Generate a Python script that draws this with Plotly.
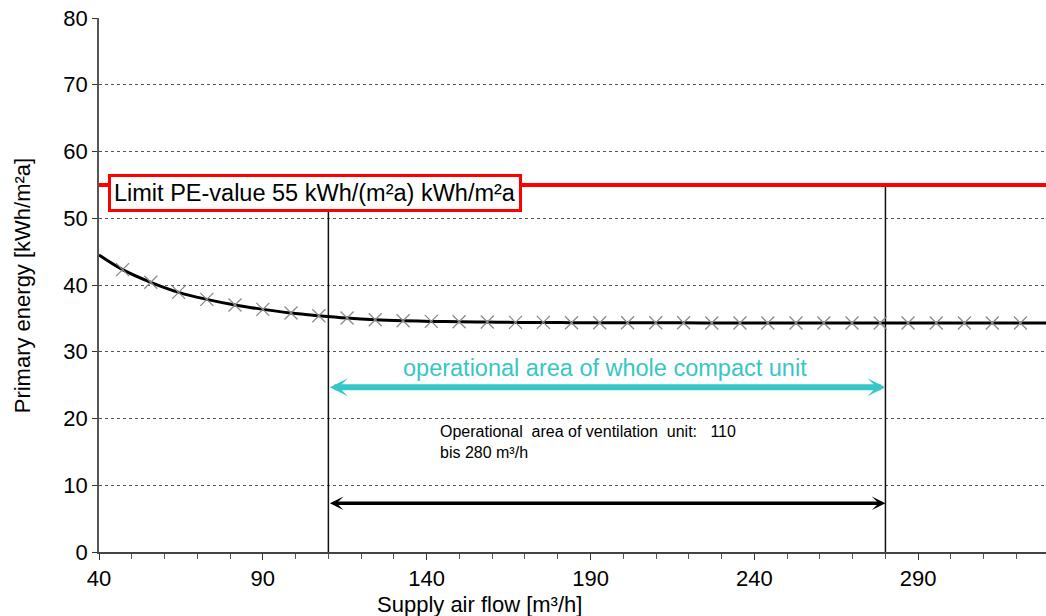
import plotly.graph_objects as go

# ---- data ----
flow = [40, 47.2, 55.8, 64.3, 72.9, 81.5, 90.0, 98.6, 107.1, 115.7, 124.3, 132.8,
        141.4, 149.9, 158.5, 167.1, 175.6, 184.2, 192.8, 201.3, 209.9, 218.4, 227.0,
        235.6, 244.1, 252.7, 261.2, 269.8, 278.4, 286.9, 295.5, 304.1, 312.6, 321.2, 329.0]
energy = [44.5, 42.3, 40.4, 38.9, 37.85, 37.0, 36.35, 35.8, 35.4, 35.05, 34.8, 34.65,
          34.55, 34.5, 34.45, 34.4, 34.4, 34.35, 34.35, 34.35, 34.35, 34.35, 34.3,
          34.3, 34.3, 34.3, 34.3, 34.3, 34.3, 34.3, 34.3, 34.3, 34.3, 34.3, 34.3]
marker_flow = flow[1:-1]
marker_energy = energy[1:-1]

limit_pe = 55
op_range = [110, 280]
whole_unit_level = 24.7
vent_unit_level = 7.3
vent_line_tops = [51.0, 55]

x_range = [40, 329]
y_range = [0, 80]
x_ticks = [40, 90, 140, 190, 240, 290]
y_ticks = [0, 10, 20, 30, 40, 50, 60, 70, 80]

FONT = "Liberation Sans, Arial, sans-serif"
CYAN = "#36c6c6"

fig = go.Figure()

# vertical operational-range lines
for xv, top in zip(op_range, vent_line_tops):
    fig.add_trace(go.Scatter(x=[xv, xv], y=[0, top], mode="lines",
                             line=dict(color="#111111", width=1.5),
                             hoverinfo="skip", showlegend=False))

# limit line
fig.add_trace(go.Scatter(x=x_range, y=[limit_pe, limit_pe], mode="lines",
                         line=dict(color="#ff0000", width=4),
                         hoverinfo="skip", showlegend=False))

# curve
fig.add_trace(go.Scatter(x=flow, y=energy, mode="lines",
                         line=dict(color="black", width=3, shape="spline", smoothing=1),
                         showlegend=False))
fig.add_trace(go.Scatter(x=marker_flow, y=marker_energy, mode="markers",
                         marker=dict(symbol="x-thin", size=13,
                                     line=dict(width=1.3, color="#8a8a8a")),
                         showlegend=False))

annotations = [
    dict(x=42.8, y=53.8, xref="x", yref="y", xanchor="left", yanchor="middle",
         text="Limit PE-value 55 kWh/(m²a) kWh/m²a", showarrow=False,
         font=dict(family=FONT, size=23.5, color="black"),
         bgcolor="white", bordercolor="#ff0000", borderwidth=3, borderpad=3),
    dict(x=op_range[1], y=whole_unit_level, ax=op_range[0], ay=whole_unit_level,
         xref="x", yref="y", axref="x", ayref="y", text="", showarrow=True,
         arrowhead=3, startarrowhead=3, arrowside="end+start",
         arrowwidth=6, arrowsize=0.5, startarrowsize=0.5, arrowcolor=CYAN),
    dict(x=194.4, y=27.5, xref="x", yref="y", text="operational area of whole compact unit",
         showarrow=False, font=dict(family=FONT, size=23.5, color=CYAN)),
    dict(x=op_range[1], y=vent_unit_level, ax=op_range[0], ay=vent_unit_level,
         xref="x", yref="y", axref="x", ayref="y", text="", showarrow=True,
         arrowhead=3, startarrowhead=3, arrowside="end+start",
         arrowwidth=3.5, arrowsize=0.65, startarrowsize=0.65, arrowcolor="black"),
    dict(x=143.4, y=16.5, xref="x", yref="y", xanchor="left", yanchor="middle", align="left",
         text="Operational\u00a0 area of ventilation\u00a0 unit:\u00a0\u00a0 110<br>bis 280 m³/h",
         showarrow=False, font=dict(family=FONT, size=16, color="black")),
    dict(x=0.4015, y=-0.099, xref="paper", yref="paper", text="Supply air flow [m³/h]",
         showarrow=False, xanchor="center", yanchor="middle",
         font=dict(family=FONT, size=22, color="black")),
    dict(x=-0.081, y=0.5, xref="paper", yref="paper", text="Primary energy [kWh/m²a]",
         showarrow=False, textangle=-90, xanchor="center", yanchor="middle",
         font=dict(family=FONT, size=22, color="black")),
]

fig.update_layout(
    width=1046, height=616,
    margin=dict(l=99, r=0, t=18, b=64),
    paper_bgcolor="white", plot_bgcolor="white",
    showlegend=False,
    font=dict(family=FONT, size=22, color="black"),
    annotations=annotations,
    xaxis=dict(range=x_range, tickvals=x_ticks, ticks="outside", ticklen=6,
               tickcolor="#333333", showgrid=False, zeroline=False,
               showline=True, linecolor="#444444", linewidth=2,
               tickfont=dict(family=FONT, size=22, color="black"),
               minor=dict(dtick=10, tick0=40, ticks="outside", ticklen=5,
                          tickcolor="#555555", showgrid=False)),
    yaxis=dict(range=y_range, tickvals=y_ticks, ticks="outside", ticklen=5,
               tickcolor="#333333", showgrid=True, gridcolor="#555555",
               griddash="dot", gridwidth=1, zeroline=False,
               showline=True, linecolor="#555555", linewidth=1.5,
               tickfont=dict(family=FONT, size=22, color="black")),
)

fig.write_html("out.html", config={"displayModeBar": False},
               post_script="document.body.style.margin='0';document.body.style.overflow='hidden';")
